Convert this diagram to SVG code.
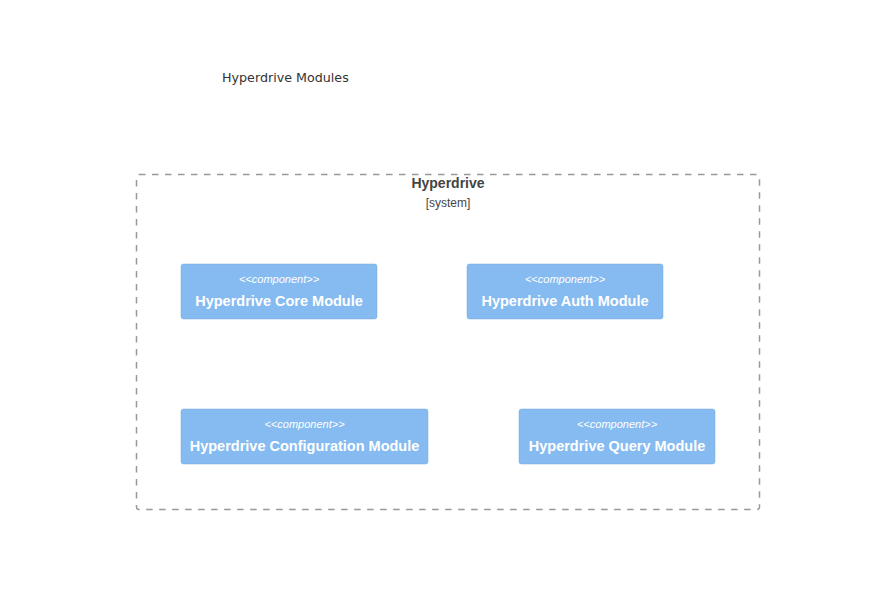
<svg xmlns="http://www.w3.org/2000/svg" width="896" height="600" viewBox="0 0 896 600">
<style>
.title{font-family:"DejaVu Sans",sans-serif;font-size:12.7px;fill:#333}
.bnd{fill:none;stroke:#999;stroke-width:1.5;stroke-dasharray:6.5,6.5}
.bname{font-family:"Liberation Sans",Arial,sans-serif;font-size:14px;font-weight:bold;fill:#444;text-anchor:middle}
.btype{font-family:"Liberation Sans",Arial,sans-serif;font-size:12px;fill:#444;text-anchor:middle}
.comp{fill:#85BBF0;stroke:#78A8D8;stroke-width:0.5}
.ster{font-family:"Liberation Sans",Arial,sans-serif;font-size:11px;font-style:italic;fill:#fff;text-anchor:middle}
.cname{font-family:"Liberation Sans",Arial,sans-serif;font-size:14.5px;font-weight:bold;fill:#fff;text-anchor:middle}
</style>
<rect width="896" height="600" fill="#fff"/>
<text class="title" x="222" y="82">Hyperdrive Modules</text>
<g id="boundary-hyperdrive">
<rect class="bnd" x="136.5" y="174.5" width="623" height="335" rx="2.5"/>
<text class="bname" x="448" y="188">Hyperdrive</text>
<text class="btype" x="448" y="207">[system]</text>
</g>
<g id="core">
<rect class="comp" x="181" y="264" width="196" height="55" rx="2.5"/>
<text class="ster" x="279" y="283">&lt;&lt;component&gt;&gt;</text>
<text class="cname" x="279" y="306">Hyperdrive Core Module</text>
</g>
<g id="auth">
<rect class="comp" x="467" y="264" width="196" height="55" rx="2.5"/>
<text class="ster" x="565" y="283">&lt;&lt;component&gt;&gt;</text>
<text class="cname" x="565" y="306">Hyperdrive Auth Module</text>
</g>
<g id="config">
<rect class="comp" x="181" y="409" width="247" height="55" rx="2.5"/>
<text class="ster" x="304.5" y="428">&lt;&lt;component&gt;&gt;</text>
<text class="cname" x="304.5" y="451">Hyperdrive Configuration Module</text>
</g>
<g id="query">
<rect class="comp" x="519" y="409" width="196" height="55" rx="2.5"/>
<text class="ster" x="617" y="428">&lt;&lt;component&gt;&gt;</text>
<text class="cname" x="617" y="451">Hyperdrive Query Module</text>
</g>
<g id="connectors"></g>
</svg>
